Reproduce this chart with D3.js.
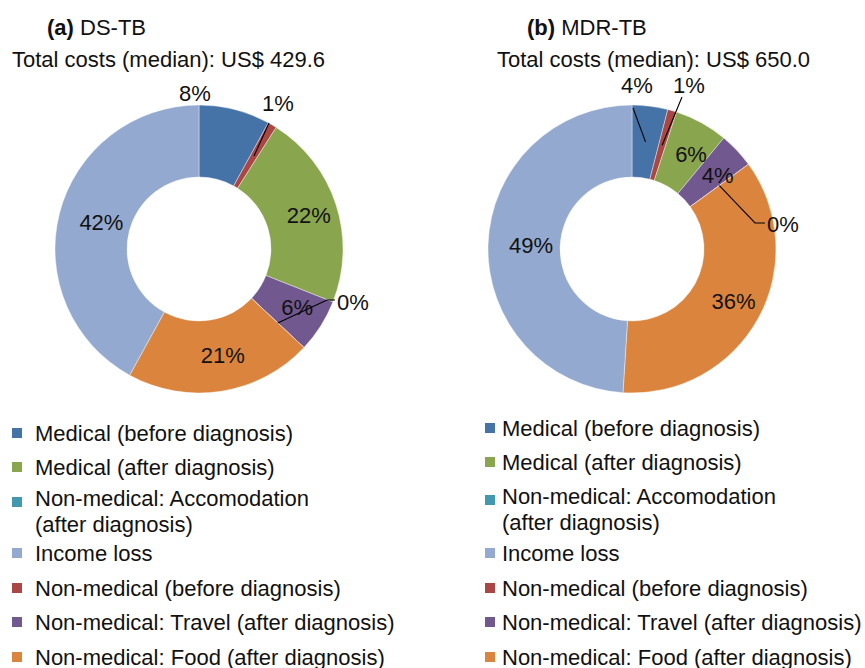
<!DOCTYPE html>
<html>
<head>
<meta charset="utf-8">
<script src="https://cdn.jsdelivr.net/npm/d3@7"></script>
<style>
  body { margin: 0; background: #fff; }
  svg text { font-family: "Liberation Sans", Arial, sans-serif; font-size: 22px; fill: #111; }
</style>
</head>
<body>
<script>
var width = 865,
    height = 668;

// slice order, clockwise from 12 o'clock
var categories = ["Medical (before diagnosis)", "Non-medical (before diagnosis)", "Medical (after diagnosis)",
                  "Non-medical: Travel (after diagnosis)", "Non-medical: Accomodation (after diagnosis)",
                  "Non-medical: Food (after diagnosis)", "Income loss"];
var colors = ["#4572A7", "#AA4643", "#89A54E", "#71588F", "#4198AF", "#DB843D", "#93A9CF"];

var dsValues = [8, 1, 22, 6, 0, 21, 42];
var mdrValues = [4, 1, 6, 4, 0, 36, 49];

var titles = ["(a)", "(b)"];
var names = ["DS-TB", "MDR-TB"];
var totals = ["US$ 429.6", "US$ 650.0"];

// legend order (index into categories) and its text lines
var legendOrder = [0, 2, 4, 6, 1, 3, 5];
var legendLines = {
  0: ["Medical (before diagnosis)"],
  2: ["Medical (after diagnosis)"],
  4: ["Non-medical: Accomodation", "(after diagnosis)"],
  6: ["Income loss"],
  1: ["Non-medical (before diagnosis)"],
  3: ["Non-medical: Travel (after diagnosis)"],
  5: ["Non-medical: Food (after diagnosis)"]
};

var outerR = 144, innerR = 72;

// layout for the two panels
var panels = [
  { values: dsValues, cx: 199, cy: 249, titleX: 47, subX: 12,
    legX: 12, legTextX: 35, legRows: [433, 467, 498, 553, 588, 622, 657],
    // labels placed outside the ring: text offset from centre, optional leader elbow
    outside: {
      0: { tx: -4, ty: -156 },
      1: { tx: 79, ty: -146, lx: 70, ly: -126 },
      4: { tx: 138, ty: 53, anchor: "start", lx: 128, ly: 51, hx: 136 }
    } },
  { values: mdrValues, cx: 632, cy: 249, titleX: 527, subX: 497,
    legX: 485, legTextX: 502, legRows: [428, 462, 496, 553, 588, 622, 657],
    outside: {
      0: { tx: 5, ty: -164, lx: 1, ly: -141 },
      1: { tx: 57, ty: -164, lx: 50, ly: -152 },
      4: { tx: 135, ty: -25, anchor: "start", lx: 123, ly: -26, hx: 133 }
    } }
];

var svg = d3.select("body")
  .append("svg")
  .attr("width", width)
  .attr("height", height);

svg.append("rect").attr("width", width).attr("height", height).attr("fill", "#fff");

var pie = d3.pie().sort(null).value(function(d) { return d; });
var arc = d3.arc().innerRadius(innerR).outerRadius(outerR);
var midArc = d3.arc().innerRadius(108).outerRadius(108);

panels.forEach(function(p, k) {
  // titles
  var t = svg.append("text").attr("x", p.titleX).attr("y", 35);
  t.append("tspan").attr("font-weight", "bold").text(titles[k]);
  t.append("tspan").text(" " + names[k]);

  svg.append("text").attr("x", p.subX).attr("y", 67)
    .text("Total costs (median): " + totals[k]);

  var g = svg.append("g").attr("transform", "translate(" + p.cx + "," + p.cy + ")");
  var arcs = pie(p.values);

  g.selectAll("path")
    .data(arcs)
    .enter()
    .append("path")
    .attr("d", arc)
    .attr("fill", function(d, i) { return colors[i]; })
    .attr("stroke", "#fff")
    .attr("stroke-width", 0.4);

  arcs.forEach(function(d, i) {
    var o = p.outside[i];
    var c = midArc.centroid(d);
    var label = d.data + "%";
    if (!o) {
      g.append("text")
        .attr("x", c[0] + 7).attr("y", c[1])
        .attr("dy", "0.35em")
        .attr("text-anchor", "middle")
        .text(label);
      return;
    }
    if (o.lx !== undefined) {
      var pts = [c, [o.lx, o.ly]];
      if (o.hx !== undefined) pts.push([o.hx, o.ly]);
      g.append("path")
        .attr("d", d3.line()(pts))
        .attr("fill", "none")
        .attr("stroke", "#000")
        .attr("stroke-width", 1.1);
    }
    g.append("text")
      .attr("x", o.tx).attr("y", o.ty)
      .attr("dy", "0.35em")
      .attr("text-anchor", o.anchor || "middle")
      .text(label);
  });

  // legend
  var leg = svg.append("g");
  legendOrder.forEach(function(ci, r) {
    var y = p.legRows[r];
    var lines = legendLines[ci];
    leg.append("rect")
      .attr("x", p.legX).attr("y", y - 5 + (lines.length > 1 ? 4 : 0))
      .attr("width", 10).attr("height", 10)
      .attr("fill", colors[ci]);
    lines.forEach(function(s, j) {
      leg.append("text")
        .attr("x", p.legTextX).attr("y", y + j * 26)
        .attr("dy", "0.35em")
        .text(s);
    });
  });
});
</script>
</body>
</html>
